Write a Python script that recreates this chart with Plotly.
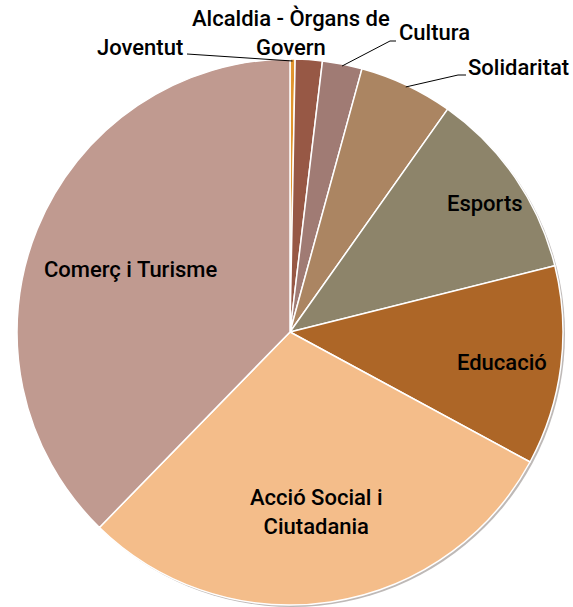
import math
import plotly.graph_objects as go

labels = ["Joventut", "Alcaldia - Òrgans de Govern", "Cultura", "Solidaritat",
          "Esports", "Educació", "Acció Social i Ciutadania", "Comerç i Turisme"]
values = [0.3, 1.6, 2.35, 5.55, 11.3, 11.8, 29.4, 37.7]
colors = ["#E0952E", "#975845", "#A07B74", "#AB8562",
          "#8D846A", "#AD6627", "#F4BD8A", "#C09A90"]

W, H = 573, 607
CX, CY, R = 290, 332, 273
SH = 2

def px(x):
    return min(max(x / W, 0), 1)

def py(y):
    return min(max(1 - y / H, 0), 1)

dom_x = [px(CX - R), px(CX + R)]
dom_y = [py(CY + R), py(CY - R)]

fig = go.Figure()
# soft shadow
fig.add_trace(go.Pie(values=[1], marker=dict(colors=["rgba(110,100,95,0.45)"], line=dict(width=0)),
                     textinfo="none", hoverinfo="skip", showlegend=False, sort=False,
                     domain=dict(x=[px(CX - R + SH), px(CX + R + SH)], y=[py(CY + R + SH), py(CY - R + SH)])))
fig.add_trace(go.Pie(labels=labels, values=values, sort=False, direction="clockwise", rotation=0,
                     marker=dict(colors=colors, line=dict(color="white", width=1.5)),
                     textinfo="none", showlegend=False,
                     domain=dict(x=dom_x, y=dom_y)))

total = sum(values)
cum = 0
mids = []
for v in values:
    mids.append((cum + v / 2) / total * 2 * math.pi)
    cum += v

def arc_pt(i, r=R):
    a = mids[i]
    return CX + r * math.sin(a), CY - r * math.cos(a)

font = dict(family="Roboto, Liberation Sans, Arial", size=22, color="black", weight=500)

annots = [
    ("Joventut", 140, 47),
    ("Alcaldia - Òrgans de<br>Govern", 291, 33),
    ("Cultura", 434, 33),
    ("Solidaritat", 518, 67),
    ("Esports", 485, 203),
    ("Educació", 502, 362),
    ("Acció Social i<br>Ciutadania", 316, 512),
    ("Comerç i Turisme", 130, 270),
]
for t, x, y in annots:
    fig.add_annotation(text=t, x=px(x), y=py(y), xref="paper", yref="paper", showarrow=False,
                       font=font, align="center", xanchor="center", yanchor="middle")

# leader lines
lines = [
    (0, [(187, 54)]),
    (2, [(390, 41), (396, 41)]),
    (3, [(458, 75), (466, 75)]),
]
for i, pts in lines:
    x0, y0 = arc_pt(i, R - 2)
    path_pts = [(x0, y0)] + pts
    for (a, b), (c, d) in zip(path_pts[:-1], path_pts[1:]):
        fig.add_shape(type="line", xref="paper", yref="paper", x0=px(a), y0=py(b), x1=px(c), y1=py(d),
                      line=dict(color="black", width=1))

fig.update_layout(width=W, height=H, margin=dict(l=0, r=0, t=0, b=0),
                  paper_bgcolor="white", plot_bgcolor="white")
fig.write_html("out.html", config={"displayModeBar": False},
               post_script="document.body.style.margin='0';document.body.style.overflow='hidden';")
